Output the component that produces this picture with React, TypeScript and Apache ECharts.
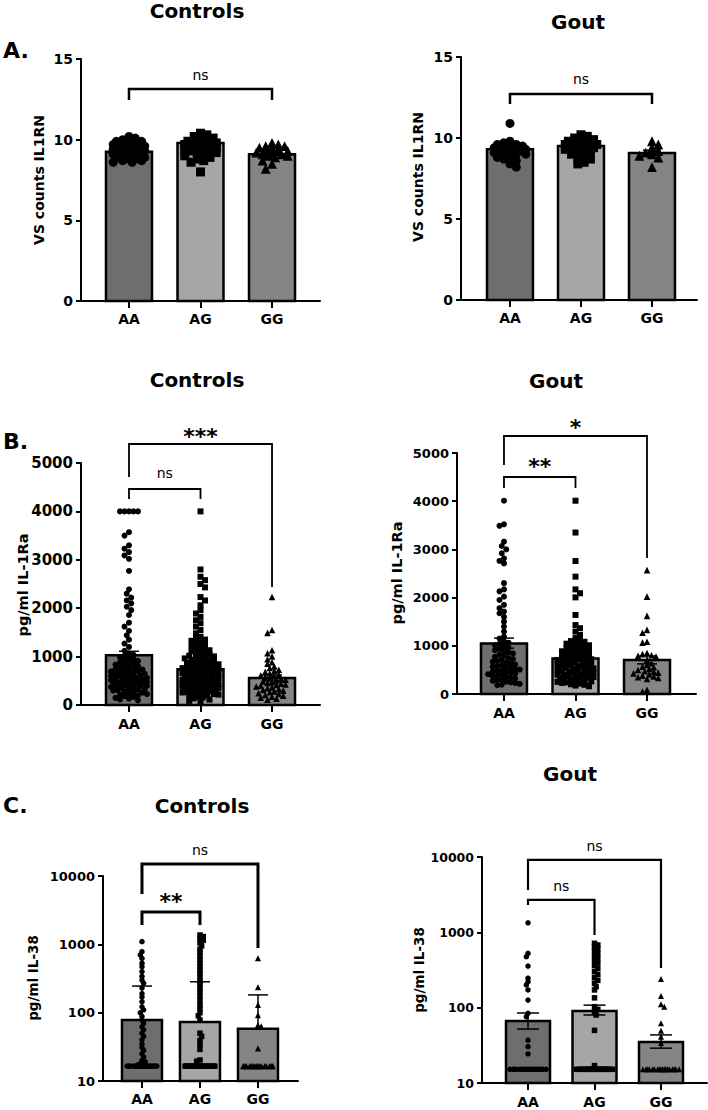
import React, { useEffect, useRef } from "react";
import * as echarts from "echarts";

// ---------- categories ----------
const CATEGORIES = ["AA", "AG", "GG"];
const BAR_COLORS = ["#6e6e6e", "#a6a6a9", "#858585"];
const SYMBOLS = ["circle", "rect", "triangle"];

// ---------- Panel A: VS counts IL1RN ----------
const A_CTRL_AA = [10.2, 10.1, 10.0, 9.9, 9.9, 9.8, 9.8, 9.7, 9.7, 9.6, 9.6, 9.5, 9.5, 9.5, 9.4, 9.4, 9.4, 9.3, 9.3, 9.3, 9.3, 9.2, 9.2, 9.2, 9.1, 9.1, 9.1, 9.0, 9.0, 9.0, 8.9, 8.9, 8.8, 8.8, 8.7, 8.7, 8.6, 8.6];
const A_CTRL_AG = [10.4, 10.3, 10.2, 10.1, 10.0, 9.9, 9.9, 9.8, 9.8, 9.7, 9.7, 9.6, 9.6, 9.5, 9.5, 9.4, 9.4, 9.3, 9.3, 9.2, 9.2, 9.1, 9.0, 8.9, 8.8, 8.7, 8.6, 8.0];
const A_CTRL_GG = [9.8, 9.7, 9.6, 9.6, 9.5, 9.5, 9.4, 9.3, 9.3, 9.2, 9.2, 9.1, 9.1, 9.0, 9.0, 8.9, 8.7, 8.5, 8.2];
const A_CTRL_MEAN = [9.25, 9.8, 9.1];
const A_CTRL_LOW = [9.19, 9.73, 9.02];
const A_CTRL_HIGH = [9.31, 9.87, 9.18];

const A_GOUT_AA = [10.9, 9.8, 9.7, 9.6, 9.6, 9.5, 9.5, 9.4, 9.4, 9.3, 9.3, 9.3, 9.2, 9.2, 9.1, 9.1, 9.0, 9.0, 8.9, 8.8, 8.7, 8.6, 8.4, 8.2];
const A_GOUT_AG = [10.2, 10.1, 10.0, 9.9, 9.8, 9.8, 9.7, 9.7, 9.6, 9.6, 9.5, 9.5, 9.4, 9.4, 9.3, 9.3, 9.2, 9.1, 9.0, 8.9, 8.8, 8.7, 8.5, 8.4];
const A_GOUT_GG = [9.8, 9.6, 9.4, 9.2, 9.1, 9.0, 8.9, 8.8, 8.2];
const A_GOUT_MEAN = [9.3, 9.5, 9.07];
const A_GOUT_LOW = [9.22, 9.44, 8.92];
const A_GOUT_HIGH = [9.38, 9.56, 9.25];

// ---------- Panel B: pg/ml IL-1Ra ----------
const B_CTRL_AA = [4000, 4000, 4000, 4000, 4000, 3570, 3500, 3300, 3230, 3160, 3090, 3020, 2770, 2390, 2300, 2220, 2160, 2100, 2030, 1960, 1860, 1700, 1620, 1530, 1440, 1350, 1270, 1200, 1120,
  1064, 1038, 1015, 987, 966, 942, 921, 908, 883, 869, 848, 833, 815, 799, 782, 771, 752, 738, 731, 714, 702, 693, 681, 668, 657, 646, 634, 621, 613, 602, 594, 583, 571, 562, 553, 544, 531, 526, 514, 505, 497, 486, 478, 469, 461, 452, 444, 436, 425, 417, 409, 398, 391, 383, 372, 361, 352, 341, 329, 318, 306, 294, 281, 268, 254, 239, 226, 213, 198, 183, 165, 147, 131, 114, 97];
const B_CTRL_AG = [4000, 2800, 2650, 2580, 2500, 2430, 2230, 2160, 2060, 1960, 1890, 1820, 1750, 1690, 1620, 1550, 1480, 1410,
  1384, 1352, 1327, 1296, 1268, 1245, 1214, 1193, 1168, 1152, 1131, 1108, 1093, 1071, 1052, 1038, 1019, 1004, 991, 976, 963, 948, 934, 921, 906, 893, 882, 868, 853, 842, 829, 817, 806, 794, 783, 771, 762, 751, 739, 728, 719, 707, 696, 686, 675, 664, 655, 644, 633, 624, 613, 603, 594, 585, 575, 566, 556, 547, 538, 528, 519, 511, 502, 494, 486, 477, 469, 461, 453, 446, 438, 430, 422, 414, 407, 399, 391, 384, 376, 368, 361, 353, 345, 337, 329, 321, 313, 304, 296, 287, 278, 269, 259, 249, 238, 227, 215, 202, 188, 172, 155, 136, 112, 85, 58];
const B_CTRL_GG = [2230, 1550, 1490, 1130, 1070, 1005, 946, 883, 851, 797, 763, 728, 702, 684, 652, 628, 611, 593, 574, 556, 538, 521, 507, 489, 472, 458, 441, 426, 412, 397, 381, 364, 348, 331, 312, 297, 281, 263, 244, 226, 207, 191, 172, 153, 131, 112];
const B_CTRL_MEAN = [1030, 740, 560];
const B_CTRL_LOW = [950, 700, 500];
const B_CTRL_HIGH = [1110, 780, 620];

const B_GOUT_AA = [4010, 3520, 3490, 3160, 3070, 3000, 2920, 2815, 2760, 2710, 2300, 2170, 2130, 2020, 1950, 1850, 1780, 1710, 1675, 1600, 1500, 1400, 1295, 1190, 1150, 1090,
  1065, 1040, 1012, 986, 961, 934, 912, 889, 863, 841, 814, 792, 771, 747, 726, 707, 688, 671, 651, 633, 616, 597, 581, 566, 551, 538, 521, 507, 493, 481, 466, 453, 439, 426, 411, 398, 384, 369, 353, 337, 321, 304, 289, 273, 257, 243, 226, 211, 195, 182];
const B_GOUT_AG = [4010, 3350, 2760, 2435, 2170, 2090, 2005, 1640, 1430, 1365, 1295, 1225, 1160,
  1122, 1098, 1084, 1061, 1044, 1028, 1011, 996, 979, 962, 947, 931, 916, 902, 886, 871, 857, 841, 827, 813, 799, 786, 773, 759, 746, 733, 721, 707, 694, 683, 671, 659, 647, 636, 623, 612, 601, 589, 576, 566, 554, 541, 531, 519, 508, 497, 488, 477, 465, 456, 444, 433, 425, 414, 402, 393, 381, 373, 361, 352, 340, 331, 321, 309, 297, 288, 276, 262, 251, 241, 229, 216, 202, 191, 175, 161];
const B_GOUT_GG = [2570, 2020, 1620, 1330, 1270, 1085, 1065, 850, 828, 804, 791, 778, 706, 641, 602, 568, 558, 519, 497, 472, 461, 443, 428, 408, 381, 362, 349, 331, 312, 85, 52];
const B_GOUT_MEAN = [1050, 735, 705];
const B_GOUT_LOW = [950, 690, 625];
const B_GOUT_HIGH = [1160, 780, 790];

// ---------- Panel C: pg/ml IL-38 (log) ----------
const C_CTRL_AA = [1095, 780, 700, 625, 530, 470, 400, 340, 300, 270, 230, 190, 170, 145, 122, 110, 100, 88, 78, 70, 62, 56, 50, 45, 40, 35, 31, 28, 25, 22.5, 20, 19, 17.5, 17.5,
  16.5, 16.5, 16.5, 16.5, 16.5, 16.5, 16.5, 16.5, 16.5, 16.5, 16.5, 16.5, 16.5, 16.5, 16.5, 16.5, 16.5, 16.5];
const C_CTRL_AG = [1370, 1300, 1220, 1150, 1050, 950, 850, 760, 680, 600, 530, 470, 420, 370, 330, 290, 255, 225, 200, 175, 150, 130, 115, 100, 90, 78, 50, 45, 39, 33.5, 29, 20.3, 19.5,
  16.5, 16.5, 16.5, 16.5, 16.5, 16.5, 16.5, 16.5, 16.5, 16.5, 16.5, 16.5, 16.5, 16.5, 16.5, 16.5, 16.5, 16.5];
const C_CTRL_GG = [625, 235, 130, 92, 66, 63, 30,
  16.5, 16.5, 16.5, 16.5, 16.5, 16.5, 16.5, 16.5, 16.5, 16.5, 16.5, 16.5, 16.5, 16.5, 16.5, 16.5];
const C_CTRL_MEAN = [78, 73, 58];
const C_CTRL_LOW = [78, 73, 58];
const C_CTRL_HIGH = [245, 283, 182];

const C_GOUT_AA = [1340, 525, 475, 357, 246, 221, 200, 172, 126, 84, 76, 37, 30.5, 24.3,
  15.2, 15.2, 15.2, 15.2, 15.2, 15.2, 15.2, 15.2, 15.2, 15.2, 15.2, 15.2, 15.2, 15.2, 15.2, 15.2, 15.2, 15.2, 15.2, 15.2];
const C_GOUT_AG = [716, 680, 640, 600, 560, 520, 480, 450, 420, 390, 360, 330, 300, 275, 250, 230, 210, 190, 172, 135, 103, 95, 88, 80, 50, 17,
  15.2, 15.2, 15.2, 15.2, 15.2, 15.2, 15.2, 15.2, 15.2, 15.2, 15.2, 15.2, 15.2, 15.2, 15.2, 15.2, 15.2, 15.2, 15.2, 15.2];
const C_GOUT_GG = [240, 143, 111, 103, 62, 49.5, 41, 34,
  15.2, 15.2, 15.2, 15.2, 15.2, 15.2, 15.2, 15.2, 15.2, 15.2, 15.2, 15.2, 15.2, 15.2, 15.2, 15.2, 15.2, 15.2];
const C_GOUT_MEAN = [66.5, 90, 35];
const C_GOUT_LOW = [52, 80, 29];
const C_GOUT_HIGH = [85, 108, 43.5];

// ---------- significance brackets (groups compared, value levels, label) ----------
type Bracket = { from: number; to: number; y: number; yFrom: number; yTo: number; label: string; labelY: number };
const A_CTRL_BRACKETS: Bracket[] = [{ from: 0, to: 2, y: 13.14, yFrom: 12.46, yTo: 12.46, label: "ns", labelY: 14.0 }];
const A_GOUT_BRACKETS: Bracket[] = [{ from: 0, to: 2, y: 12.72, yFrom: 12.1, yTo: 12.1, label: "ns", labelY: 13.64 }];
const B_CTRL_BRACKETS: Bracket[] = [
  { from: 0, to: 2, y: 5393, yFrom: 4711, yTo: 2438, label: "***", labelY: 5640 },
  { from: 0, to: 1, y: 4463, yFrom: 4256, yTo: 4256, label: "ns", labelY: 4793 },
];
const B_GOUT_BRACKETS: Bracket[] = [
  { from: 0, to: 2, y: 5353, yFrom: 4751, yTo: 2822, label: "*", labelY: 5622 },
  { from: 0, to: 1, y: 4502, yFrom: 4274, yTo: 4274, label: "**", labelY: 4793 },
];
const C_CTRL_BRACKETS: Bracket[] = [
  { from: 0, to: 2, y: 15030, yFrom: 5470, yTo: 885, label: "ns", labelY: 24100 },
  { from: 0, to: 1, y: 2980, yFrom: 1924, yTo: 1924, label: "**", labelY: 4790 },
];
const C_GOUT_BRACKETS: Bracket[] = [
  { from: 0, to: 2, y: 9150, yFrom: 3655, yTo: 336, label: "ns", labelY: 14020 },
  { from: 0, to: 1, y: 2690, yFrom: 2311, yTo: 925, label: "ns", labelY: 4130 },
];

const FONT = "DejaVu Sans";

const PANELS = [
  {
    grid: { left: 81, top: 59, width: 239, height: 242 }, xMin: -0.671, xMax: 2.671,
    log: false, yMin: 0, yMax: 15, yInterval: 5,
    mean: A_CTRL_MEAN, low: A_CTRL_LOW, high: A_CTRL_HIGH, groups: [A_CTRL_AA, A_CTRL_AG, A_CTRL_GG], brackets: A_CTRL_BRACKETS,
    barWidth: 46, dot: 9, sep: 0.7, capWidth: 18, errWidth: 1.5, bracketWidth: 2.5, tickFont: 14, xLabelMargin: 11,
    title: { text: "Controls", x: 197, y: 11 }, yName: { text: "VS counts IL1RN", x: 39, y: 180, size: 14 },
  },
  {
    grid: { left: 461, top: 57, width: 236, height: 243 }, xMin: -0.69, xMax: 2.634,
    log: false, yMin: 0, yMax: 15, yInterval: 5,
    mean: A_GOUT_MEAN, low: A_GOUT_LOW, high: A_GOUT_HIGH, groups: [A_GOUT_AA, A_GOUT_AG, A_GOUT_GG], brackets: A_GOUT_BRACKETS,
    barWidth: 46, dot: 9, sep: 0.7, capWidth: 18, errWidth: 1.5, bracketWidth: 2.5, tickFont: 14, xLabelMargin: 11,
    title: { text: "Gout", x: 578, y: 22 }, yName: { text: "VS counts IL1RN", x: 418, y: 177, size: 14 },
  },
  {
    grid: { left: 81, top: 463, width: 239, height: 242 }, xMin: -0.671, xMax: 2.671,
    log: false, yMin: 0, yMax: 5000, yInterval: 1000,
    mean: B_CTRL_MEAN, low: B_CTRL_LOW, high: B_CTRL_HIGH, groups: [B_CTRL_AA, B_CTRL_AG, B_CTRL_GG], brackets: B_CTRL_BRACKETS,
    barWidth: 46, dot: 6, sep: 0.75, capWidth: 20, errWidth: 1.5, bracketWidth: 1.8, tickFont: 15, xLabelMargin: 12,
    title: { text: "Controls", x: 197, y: 380 }, yName: { text: "pg/ml IL-1Ra", x: 23, y: 585, size: 14.5 },
  },
  {
    grid: { left: 457, top: 453, width: 239, height: 241 }, xMin: -0.657, xMax: 2.685,
    log: false, yMin: 0, yMax: 5000, yInterval: 1000,
    mean: B_GOUT_MEAN, low: B_GOUT_LOW, high: B_GOUT_HIGH, groups: [B_GOUT_AA, B_GOUT_AG, B_GOUT_GG], brackets: B_GOUT_BRACKETS,
    barWidth: 46, dot: 6, sep: 0.75, capWidth: 20, errWidth: 1.5, bracketWidth: 1.8, tickFont: 13, xLabelMargin: 12,
    title: { text: "Gout", x: 556, y: 381 }, yName: { text: "pg/ml IL-1Ra", x: 397, y: 573, size: 14.5 },
  },
  {
    grid: { left: 103, top: 876, width: 195, height: 205 }, xMin: -0.672, xMax: 2.69,
    log: true, yMin: 10, yMax: 10000, yInterval: 0,
    mean: C_CTRL_MEAN, low: C_CTRL_LOW, high: C_CTRL_HIGH, groups: [C_CTRL_AA, C_CTRL_AG, C_CTRL_GG], brackets: C_CTRL_BRACKETS,
    barWidth: 40, dot: 5.5, sep: 0.6, capWidth: 20, errWidth: 1.5, bracketWidth: 3, tickFont: 13, xLabelMargin: 11,
    title: { text: "Controls", x: 202, y: 806 }, yName: { text: "pg/ml IL-38", x: 33, y: 978, size: 13.5 },
  },
  {
    grid: { left: 482, top: 857, width: 225, height: 226 }, xMin: -0.692, xMax: 2.692,
    log: true, yMin: 10, yMax: 10000, yInterval: 0,
    mean: C_GOUT_MEAN, low: C_GOUT_LOW, high: C_GOUT_HIGH, groups: [C_GOUT_AA, C_GOUT_AG, C_GOUT_GG], brackets: C_GOUT_BRACKETS,
    barWidth: 44, dot: 5.5, sep: 0.6, capWidth: 22, errWidth: 1.5, bracketWidth: 2.2, tickFont: 12.5, xLabelMargin: 12,
    title: { text: "Gout", x: 570, y: 774 }, yName: { text: "pg/ml IL-38", x: 419, y: 970, size: 13.5 },
  },
];

const PANEL_LETTERS = [
  { text: "A.", x: 3, y: 50 },
  { text: "B.", x: 3, y: 441 },
  { text: "C.", x: 3, y: 805 },
];

function swarmOffsets(vals: number[], yPx: (v: number) => number, dot: number, sepFactor: number, halfMax: number): number[] {
  const sep = dot * sepFactor;
  const step = sep / 2;
  const order = vals.map((_, i) => i).sort((a, b) => vals[b] - vals[a]);
  const placed: { x: number; y: number }[] = [];
  const out: number[] = new Array(vals.length).fill(0);
  const kMax = Math.floor(halfMax / step);
  for (const i of order) {
    const py = yPx(vals[i]);
    let chosen: number | null = null;
    let best = 0;
    let bestScore = -1;
    for (let k = 0; k <= kMax && chosen === null; k++) {
      const cands = k === 0 ? [0] : placed.length % 2 ? [k * step, -k * step] : [-k * step, k * step];
      for (const cx of cands) {
        let md = Infinity;
        for (const p of placed) {
          const dy = p.y - py;
          if (Math.abs(dy) >= sep) continue;
          const d = Math.hypot(p.x - cx, dy);
          if (d < md) md = d;
        }
        if (md >= sep) { chosen = cx; break; }
        if (md > bestScore) { bestScore = md; best = cx; }
      }
    }
    const x = chosen === null ? best : chosen;
    placed.push({ x, y: py });
    out[i] = x;
  }
  return out;
}

function textStyle(text: string, font: string, align = "center", vAlign = "middle") {
  return { text, font, fill: "#000", align, textAlign: align, verticalAlign: vAlign, textVerticalAlign: vAlign };
}

function buildOption() {
  const grid: any[] = [];
  const xAxis: any[] = [];
  const yAxis: any[] = [];
  const series: any[] = [];
  const graphic: any[] = [];

  PANELS.forEach((p, pi) => {
    grid.push({ ...p.grid });
    xAxis.push({
      gridIndex: pi, type: "value", min: p.xMin, max: p.xMax,
      axisLine: { show: true, onZero: false, lineStyle: { color: "#000", width: 2 } },
      axisTick: { show: true, customValues: [0, 1, 2], length: 7, lineStyle: { color: "#000", width: 2 } },
      axisLabel: {
        show: true, customValues: [0, 1, 2], margin: p.xLabelMargin,
        formatter: (v: number) => (Number.isInteger(v) && v >= 0 && v < CATEGORIES.length ? CATEGORIES[v] : ""),
        color: "#000", fontWeight: "bold", fontSize: 14, fontFamily: FONT,
      },
      splitLine: { show: false },
    });
    const ya: any = {
      gridIndex: pi, type: p.log ? "log" : "value", min: p.yMin, max: p.yMax,
      axisLine: { show: true, onZero: false, lineStyle: { color: "#000", width: 2 } },
      axisTick: { show: true, length: 5, lineStyle: { color: "#000", width: 2 } },
      axisLabel: {
        color: "#000", fontWeight: "bold", fontSize: p.tickFont, fontFamily: FONT, margin: 8,
        formatter: (v: number) => String(Math.round(v)),
      },
      splitLine: { show: false },
    };
    if (p.log) ya.logBase = 10; else ya.interval = p.yInterval;
    yAxis.push(ya);

    const pxPerX = p.grid.width / (p.xMax - p.xMin);
    const yPx = p.log
      ? (v: number) => (Math.log10(v) * p.grid.height) / (Math.log10(p.yMax) - Math.log10(p.yMin))
      : (v: number) => (v * p.grid.height) / (p.yMax - p.yMin);

    // bars
    series.push({
      type: "custom", xAxisIndex: pi, yAxisIndex: pi, z: 1, silent: true,
      data: p.mean.map((m, g) => [g, m]),
      renderItem: (params: any, api: any) => {
        const x = api.value(0);
        const v = api.value(1);
        const top = api.coord([x, v]);
        const base = api.coord([x, p.yMin]);
        const w = p.barWidth;
        return {
          type: "rect",
          shape: { x: top[0] - w / 2, y: top[1], width: w, height: base[1] - top[1] },
          style: { fill: BAR_COLORS[params.dataIndex], stroke: "#000", lineWidth: 2.5 },
        };
      },
    });

    // points
    p.groups.forEach((vals, g) => {
      const offs = swarmOffsets(vals, yPx, p.dot, p.sep, p.barWidth / 2 - p.dot / 2 - 1);
      series.push({
        type: "scatter", xAxisIndex: pi, yAxisIndex: pi, z: 3, silent: true,
        symbol: SYMBOLS[g], symbolSize: g === 2 ? p.dot * 1.1 : p.dot,
        itemStyle: { color: "#000", opacity: 1 },
        data: vals.map((v, i) => [g + offs[i] / pxPerX, v]),
      });
    });

    // error bars
    series.push({
      type: "custom", xAxisIndex: pi, yAxisIndex: pi, z: 4, silent: true,
      data: p.mean.map((m, g) => [g, p.low[g], p.high[g], m]),
      renderItem: (params: any, api: any) => {
        const x = api.value(0);
        const lo = api.value(1);
        const hi = api.value(2);
        const m = api.value(3);
        const pLo = api.coord([x, lo]);
        const pHi = api.coord([x, hi]);
        const h = p.capWidth / 2;
        const st = { stroke: "#000", lineWidth: p.errWidth };
        const children: any[] = [
          { type: "line", shape: { x1: pLo[0], y1: pLo[1], x2: pHi[0], y2: pHi[1] }, style: st },
          { type: "line", shape: { x1: pHi[0] - h, y1: pHi[1], x2: pHi[0] + h, y2: pHi[1] }, style: st },
        ];
        if (lo < m) children.push({ type: "line", shape: { x1: pLo[0] - h, y1: pLo[1], x2: pLo[0] + h, y2: pLo[1] }, style: st });
        return { type: "group", children };
      },
    });

    // brackets
    series.push({
      type: "custom", xAxisIndex: pi, yAxisIndex: pi, z: 5, silent: true, clip: false,
      data: p.brackets.map((b) => [b.from, b.to, b.y, b.yFrom, b.yTo, b.labelY]),
      renderItem: (params: any, api: any) => {
        const b = p.brackets[params.dataIndex];
        const a = api.value(0);
        const c = api.value(1);
        const pts = [
          api.coord([a, api.value(3)]),
          api.coord([a, api.value(2)]),
          api.coord([c, api.value(2)]),
          api.coord([c, api.value(4)]),
        ];
        const lp = api.coord([(a + c) / 2, api.value(5)]);
        const star = b.label.indexOf("*") >= 0;
        const font = star ? `bold 22px "${FONT}"` : `14px "${FONT}"`;
        return {
          type: "group",
          children: [
            { type: "polyline", shape: { points: pts }, style: { stroke: "#000", lineWidth: p.bracketWidth, fill: "none" } },
            { type: "text", x: lp[0], y: lp[1] + (star ? 4 : 0), style: textStyle(b.label, font) },
          ],
        };
      },
    });

    graphic.push({ type: "text", x: p.title.x, y: p.title.y, style: textStyle(p.title.text, `bold 20px "${FONT}"`) });
    graphic.push({
      type: "text", x: p.yName.x, y: p.yName.y, rotation: Math.PI / 2,
      style: textStyle(p.yName.text, `bold ${p.yName.size}px "${FONT}"`),
    });
  });

  PANEL_LETTERS.forEach((l) => {
    graphic.push({ type: "text", x: l.x, y: l.y, style: textStyle(l.text, `bold 22px "${FONT}"`, "left", "middle") });
  });

  return { animation: false, backgroundColor: "#fff", grid, xAxis, yAxis, series, graphic };
}

export default function App() {
  const ref = useRef<HTMLDivElement>(null);
  useEffect(() => {
    document.body.style.margin = "0";
    if (!ref.current) return;
    const chart = echarts.init(ref.current, null, { renderer: "svg" });
    chart.setOption(buildOption() as any);
    return () => chart.dispose();
  }, []);
  return <div ref={ref} style={{ width: 708, height: 1110, background: "#fff" }} />;
}
